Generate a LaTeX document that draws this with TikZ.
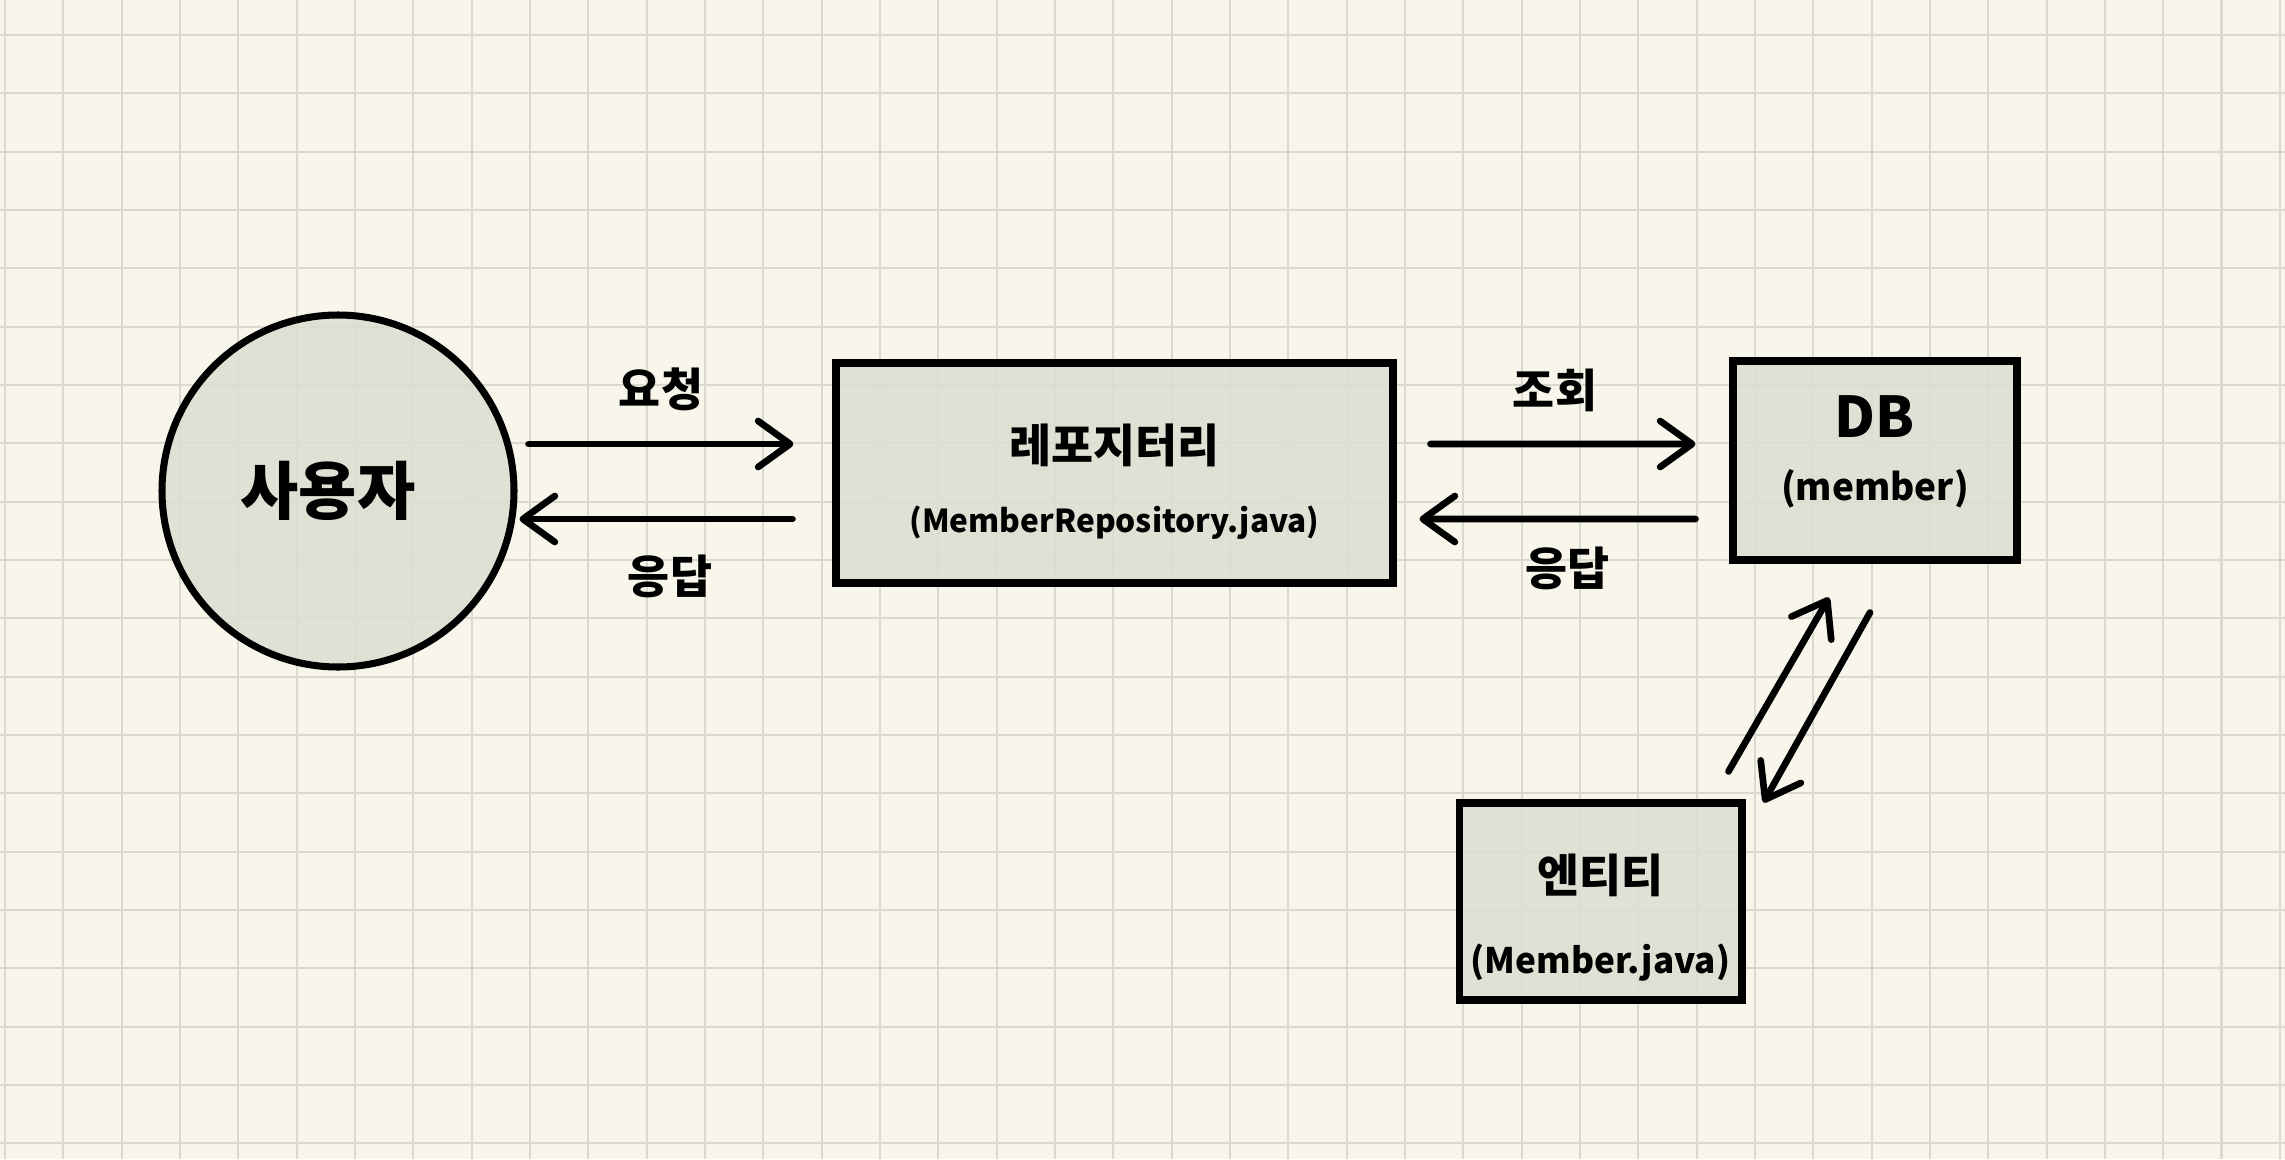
\documentclass[tikz,border=0pt]{standalone}
\usepackage{fontspec}
\setmainfont{Noto Sans CJK KR}
\usepackage{tikz}
\usetikzlibrary{arrows.meta,positioning,calc}

\definecolor{paper}{HTML}{F8F6EA}
\definecolor{gridgray}{HTML}{DAD9CD}
\definecolor{boxfill}{HTML}{DEDDD1}

\newcommand{\txtuser}{\fontsize{18}{21}\selectfont\bfseries}
\newcommand{\txtbig}{\fontsize{13}{15}\selectfont\bfseries}
\newcommand{\txtsmall}{\fontsize{9}{11}\selectfont\bfseries}

\begin{document}
\begin{tikzpicture}[
    thing/.style={draw, line width=2pt, fill=boxfill, fill opacity=0.85, text opacity=1, align=center},
    arrow/.style={-{Straight Barb[length=3.2mm, width=4.6mm, round]}, line width=1.9pt, line cap=round},
    lbl/.style={inner sep=0pt, font=\txtbig}
]
    % Paper with grid
    \useasboundingbox (0,0) rectangle (22.85,11.59);
    \fill[paper] (0,0) rectangle (22.85,11.59);
    \draw[gridgray, line width=0.6pt, xshift=0.05cm, yshift=0.157cm] (-0.05,-0.157) grid[step=0.5833cm] (22.80,11.433);

    % Actors and boxes
    \node[thing, circle, minimum size=3.52cm] (user) at (3.38,6.68) {\txtuser 사용자\hspace*{0.2cm}};
    \node[thing, minimum width=5.57cm, minimum height=2.20cm] (repo) at (11.145,6.86)
        {\mbox{}\\[4pt]\txtbig 레포지터리\\[8pt]\txtsmall (MemberRepository.java)};
    \node[thing, minimum width=2.84cm, minimum height=1.99cm] (db) at (18.75,6.985)
        {\fontsize{16}{18}\selectfont\bfseries DB\\[6pt]\fontsize{10.5}{12}\selectfont\bfseries (member)\\[-5pt]};
    \node[thing, minimum width=2.81cm, minimum height=1.97cm] (entity) at (16.005,2.575)
        {\mbox{}\\[8pt]\txtbig 엔티티\\[11pt]\fontsize{10}{12}\selectfont\bfseries (Member.java)};

    % Request / response
    \draw[arrow] ([shift={(0.11,0.47)}]user.east) -- node[lbl, above=0.3cm] {요청} ([shift={(-0.39,0.29)}]repo.west);
    \draw[arrow] ([shift={(-0.40,-0.46)}]repo.west) -- node[lbl, below=0.33cm, xshift=0.14cm] {응답} ([shift={(0.02,-0.28)}]user.east);

    \draw[arrow] ([shift={(0.34,0.29)}]repo.east) -- node[lbl, above=0.29cm, xshift=-0.08cm] {조회} ([shift={(-0.34,0.165)}]db.west);
    \draw[arrow] ([shift={(-0.34,-0.585)}]db.west) -- node[lbl, below=0.25cm, xshift=0.1cm] {응답} ([shift={(0.23,-0.46)}]repo.east);

    % DB <-> entity
    \draw[arrow] ([shift={(-0.17,0.28)}]entity.north east) -- ([shift={(-0.46,-0.34)}]db.south);
    \draw[arrow] ([shift={(-0.05,-0.49)}]db.south) -- ([shift={(0.18,-0.03)}]entity.north east);

\end{tikzpicture}
\end{document}
